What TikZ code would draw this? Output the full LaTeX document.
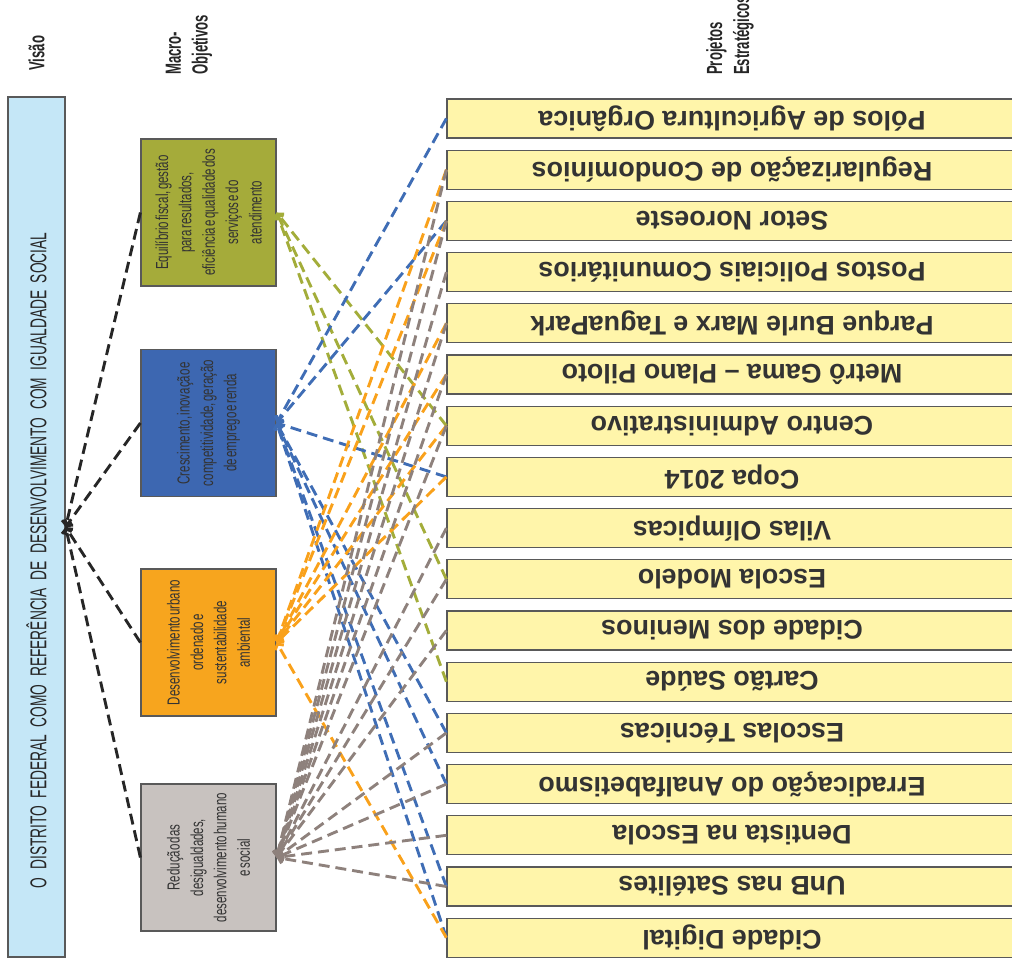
\documentclass[tikz,border=0pt]{standalone}
\usepackage{fontspec}
\setmainfont{Liberation Sans}
\newfontfamily\narrowfont[FakeStretch=0.66, WordSpace=0.4]{Liberation Sans}
\newfontfamily\titlefont[FakeStretch=0.6]{Liberation Sans}
\newfontfamily\visaofont[FakeStretch=0.6, WordSpace=0.3]{Liberation Sans}
\usetikzlibrary{arrows.meta}
\definecolor{boxline}{HTML}{595959}
\definecolor{textgray}{HTML}{333333}
\definecolor{visaofill}{HTML}{C5E7F7}
\definecolor{olivefill}{HTML}{A5AB3A}
\definecolor{bluefill}{HTML}{3D67B1}
\definecolor{orangefill}{HTML}{F7A51E}
\definecolor{grayfill}{HTML}{C8C2BF}
\definecolor{projfill}{HTML}{FFF5AA}
\definecolor{olivelink}{HTML}{A3AD3A}
\definecolor{bluelink}{HTML}{3F6DB5}
\definecolor{orangelink}{HTML}{F9A11B}
\definecolor{graylink}{HTML}{8E817C}
\definecolor{blacklink}{HTML}{262626}
\begin{document}
\begin{tikzpicture}[x=1bp, y=-1bp,
  box/.style={draw=boxline, line width=1.2pt, inner sep=0pt},
  macro/.style={box, rotate=90, minimum width=147bp, minimum height=135bp,
    align=center, text=textgray, font=\narrowfont\fontsize{17.5}{23.5}\selectfont},
  projeto/.style={box, rotate=180, fill=projfill, minimum width=900bp,
    minimum height=39bp, text=textgray, font=\bfseries\fontsize{27}{30}\selectfont},
  titulo/.style={rotate=90, anchor=west, inner sep=0pt, align=left,
    text=blacklink, font=\titlefont\bfseries\fontsize{22}{27}\selectfont},
  link/.style={line width=2.9pt, dash pattern=on 11pt off 6pt,
    -{Straight Barb[length=4pt,width=10pt]}}]
  \useasboundingbox (0,0) rectangle (1012,964);
  \clip (0,0) rectangle (1012,964);
  % column titles
  \node[titulo] (tvisao) at (36.5,71) {Visão};
  \node[titulo] (tmacro) at (189,75) {Macro-\\Objetivos};
  \node[titulo] (tproj) at (730,75) {Projetos\\Estratégicos};
  % vision
  \node[box, fill=visaofill, rotate=90, minimum height=57bp, text width=722bp,
    inner xsep=69bp, align=left, text=blacklink,
    font=\visaofont\fontsize{23}{26}\selectfont] (visao) at (36.5,527)
    {O DISTRITO FEDERAL COMO REFERÊNCIA DE DESENVOLVIMENTO COM IGUALDADE SOCIAL};
  % macro objectives
  \node[macro, fill=olivefill] (m1) at (208.5,212.5)
    {Equilíbrio fiscal, gestão\\para resultados,\\eficiência e qualidade dos\\serviços e do\\atendimento};
  \node[macro, fill=bluefill] (m2) at (208.5,423)
    {Crescimento, inovação e\\competitividade, geração\\de emprego e renda};
  \node[macro, fill=orangefill] (m3) at (208.5,642.5)
    {Desenvolvimento urbano\\ordenado e\\sustentabilidade\\ambiental};
  \node[macro, fill=grayfill] (m4) at (208.5,857.5)
    {Redução das\\desigualdades,\\desenvolvimento humano\\e social};
  % strategic projects (boxes run off the right edge)
  \foreach \txt [count=\i] in {Pólos de Agricultura Orgânica, Regularização de Condomínios,
      Setor Noroeste, Postos Policiais Comunitários, Parque Burle Marx e TaguaPark,
      Metrô Gama – Plano Piloto, Centro Administrativo, Copa 2014, Vilas Olímpicas,
      Escola Modelo, Cidade dos Meninos, Cartão Saúde, Escolas Técnicas,
      Erradicação do Analfabetismo, Dentista na Escola, UnB nas Satélites, Cidade Digital}
    \node[projeto] (p\i) at (897,{118.5+51.2*(\i-1)}) {\hspace*{330bp}\txt};
  % links (rotated nodes: p.east is the left side, m.south the right side)
  \foreach \k in {1,...,4}
    \draw[link, blacklink] (m\k.north) -- (visao.south);
  \foreach \j in {7,10,12}
    \draw[link, olivelink] (p\j.east) -- (m1.south);
  \foreach \j in {1,3,8,13,14,16,17}
    \draw[link, bluelink] (p\j.east) -- (m2.south);
  \foreach \j in {2,3,5,6,7,8,17}
    \draw[link, orangelink] (p\j.east) -- (m3.south);
  \foreach \j in {2,3,4,5,6,7,9,10,11,13,14,15,16}
    \draw[link, graylink] (p\j.east) -- (m4.south);
\end{tikzpicture}
\end{document}
